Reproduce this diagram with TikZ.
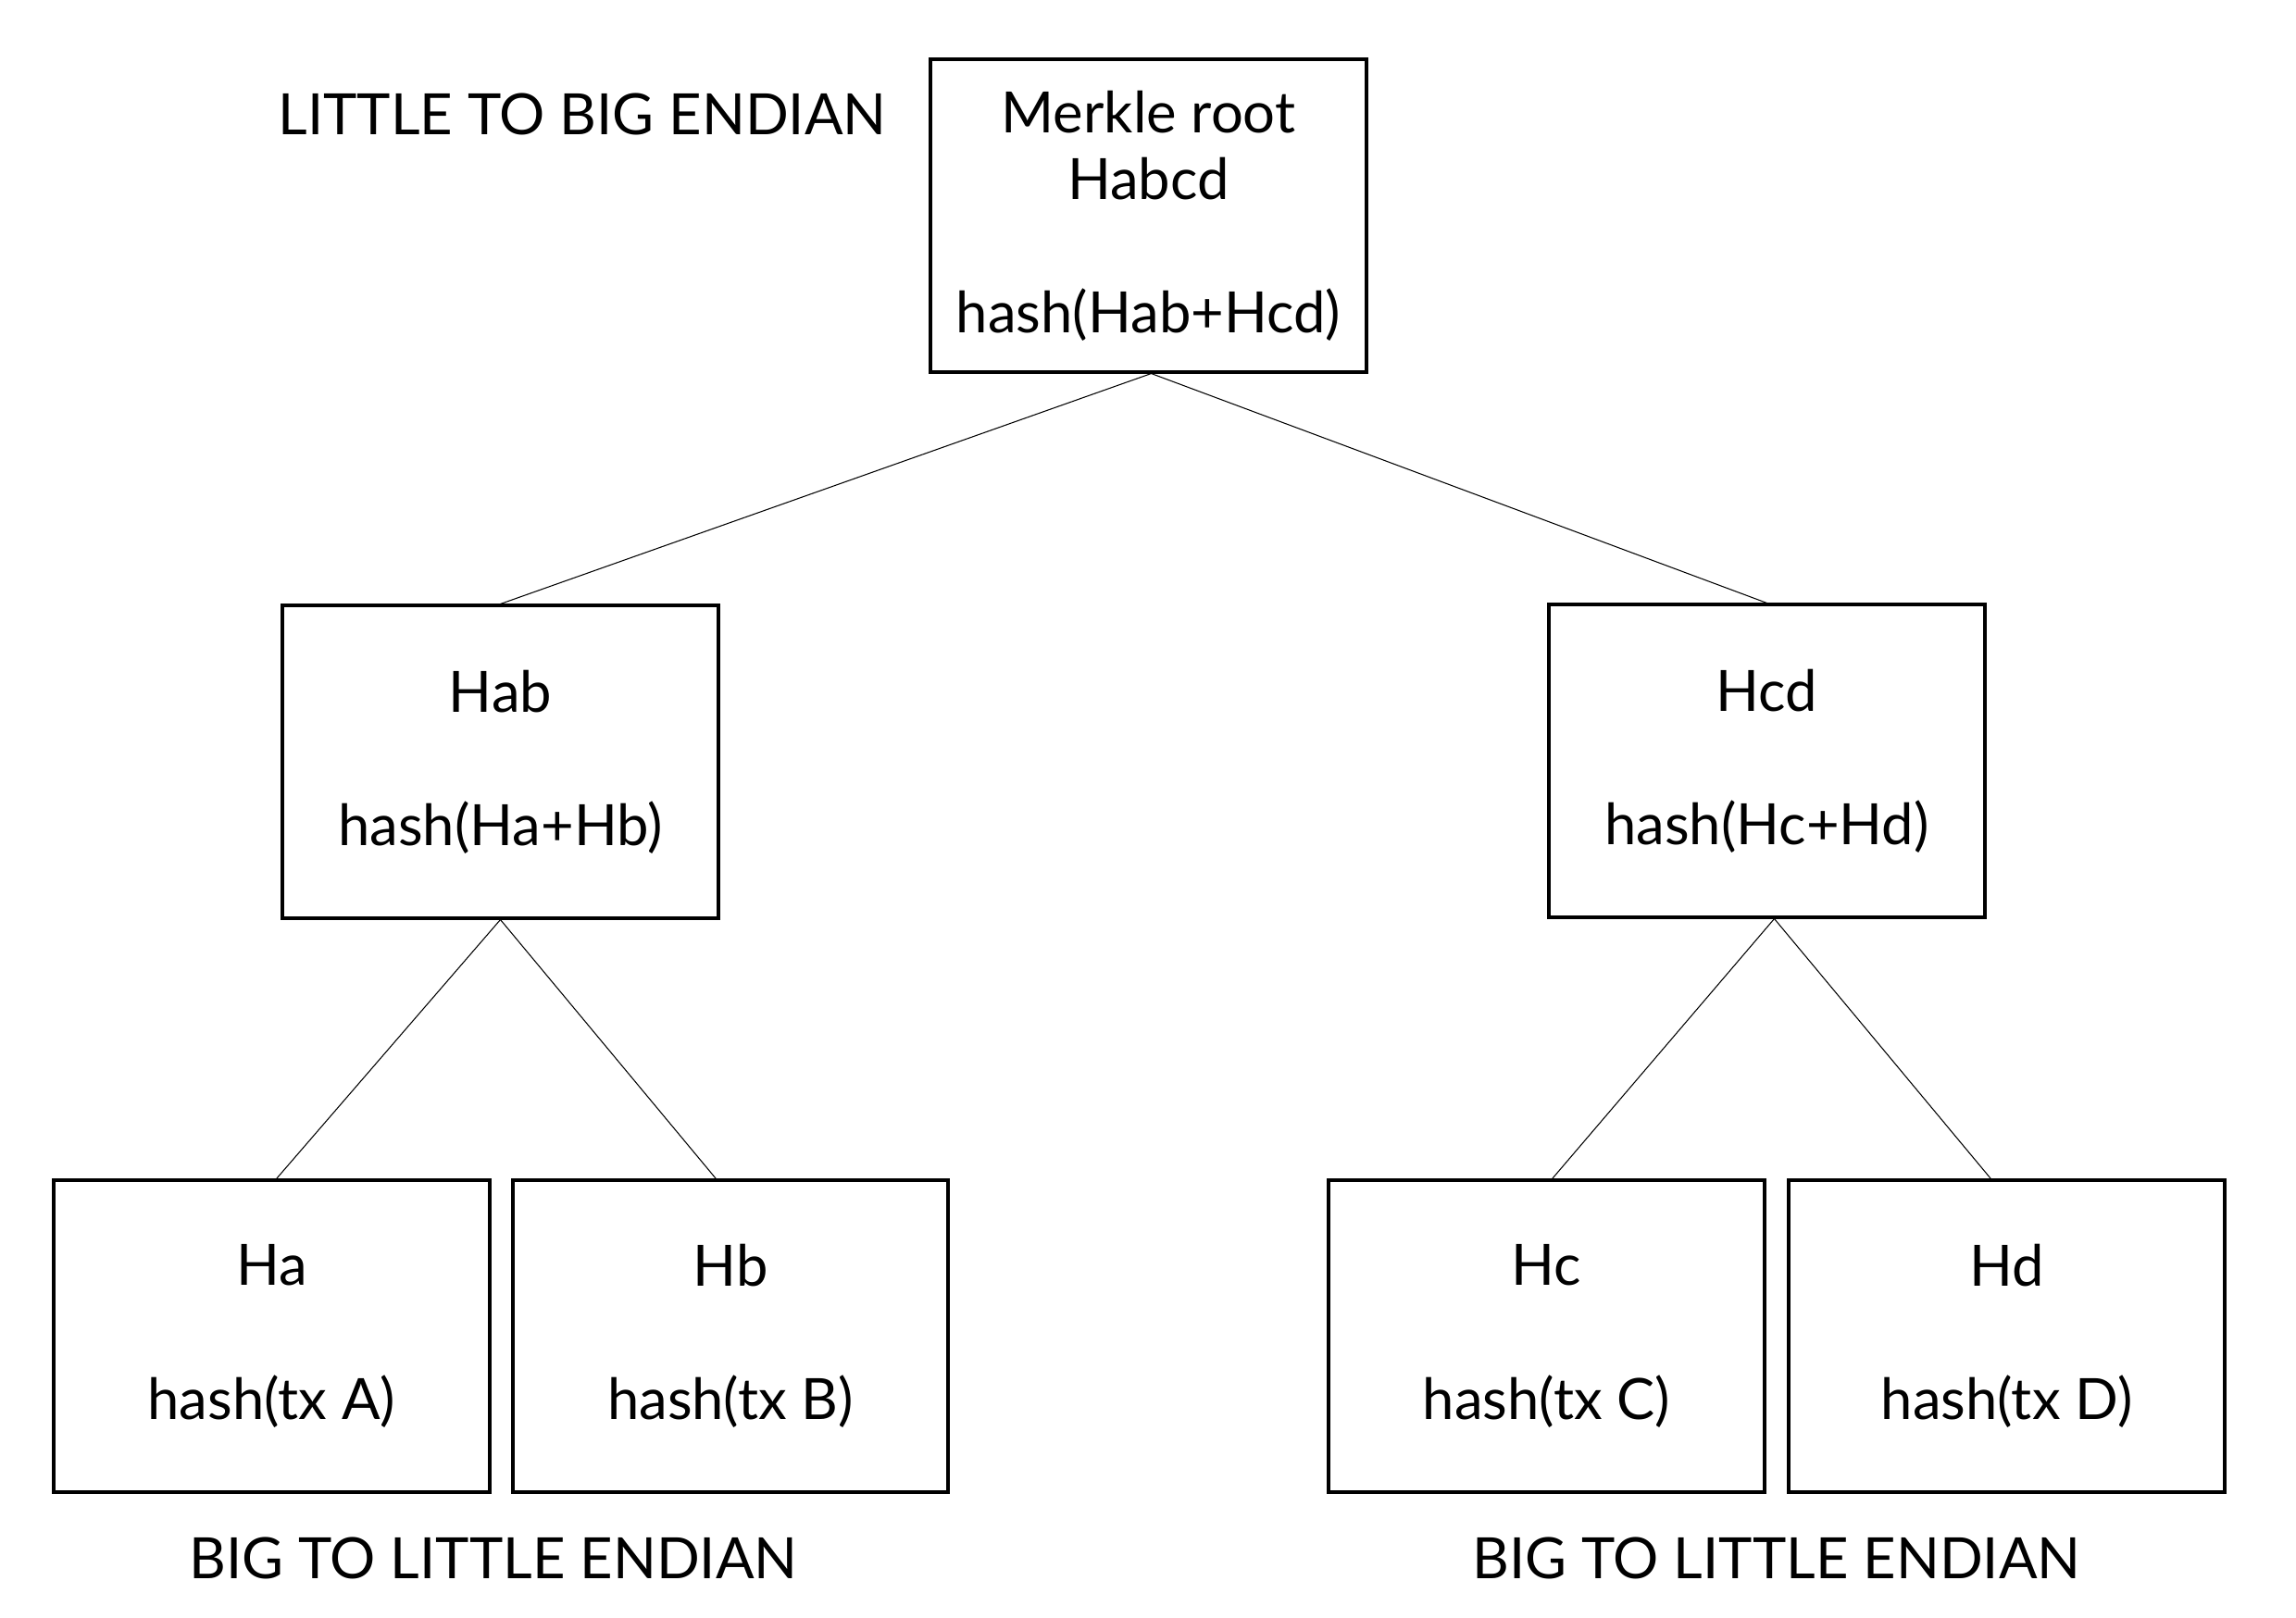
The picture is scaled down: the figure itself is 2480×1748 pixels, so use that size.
\documentclass[tikz,border=0pt]{standalone}
\usepackage{fontspec}
\setmainfont{Lato}
\begin{document}
\begin{tikzpicture}[x=0.01cm,y=-0.01cm,
  box/.style={draw=black,line width=1.1pt,rectangle,minimum width=4.70cm,minimum height=3.37cm,align=center,inner sep=0pt,font=\fontsize{17.5pt}{20.5pt}\selectfont},
  lbl/.style={font=\fontsize{17.5pt}{20.5pt}\selectfont,inner sep=0pt,anchor=base},
  conn/.style={draw=black,line width=0.3pt}]
\useasboundingbox (0,0) rectangle (2480,1748);
\node[box] (root) at (1240.5,233) {Merkle root\\Habcd\\[20.5pt]hash(Hab+Hcd)};
\node[box] (hab) at (540.5,823) {Hab\\[20.5pt]hash(Ha+Hb)};
\node[box] (hcd) at (1908.5,822) {Hcd\\[20.5pt]hash(Hc+Hd)};
\node[box] (ha) at (293.5,1443.5) {Ha\\[20.5pt]hash(tx A)};
\node[box] (hb) at (789,1443.5) {Hb\\[20.5pt]hash(tx B)};
\node[box] (hc) at (1670.5,1443.5) {Hc\\[20.5pt]hash(tx C)};
\node[box] (hd) at (2167.5,1443.5) {Hd\\[20.5pt]hash(tx D)};
\node[lbl] (t1) at (629,145) {LITTLE TO BIG ENDIAN};
\node[lbl] (t2) at (533,1705) {BIG TO LITTLE ENDIAN};
\node[lbl] (t3) at (1919,1705) {BIG TO LITTLE ENDIAN};
\draw[conn] ([xshift=0.03cm]root.south) -- (hab.north);
\draw[conn] ([xshift=0.03cm]root.south) -- (hcd.north);
\draw[conn] (hab.south) -- ([xshift=0.055cm]ha.north);
\draw[conn] (hab.south) -- ([xshift=-0.16cm]hb.north);
\draw[conn] ([xshift=0.08cm]hcd.south) -- ([xshift=0.065cm]hc.north);
\draw[conn] ([xshift=0.08cm]hcd.south) -- ([xshift=-0.175cm]hd.north);
\end{tikzpicture}
\end{document}
